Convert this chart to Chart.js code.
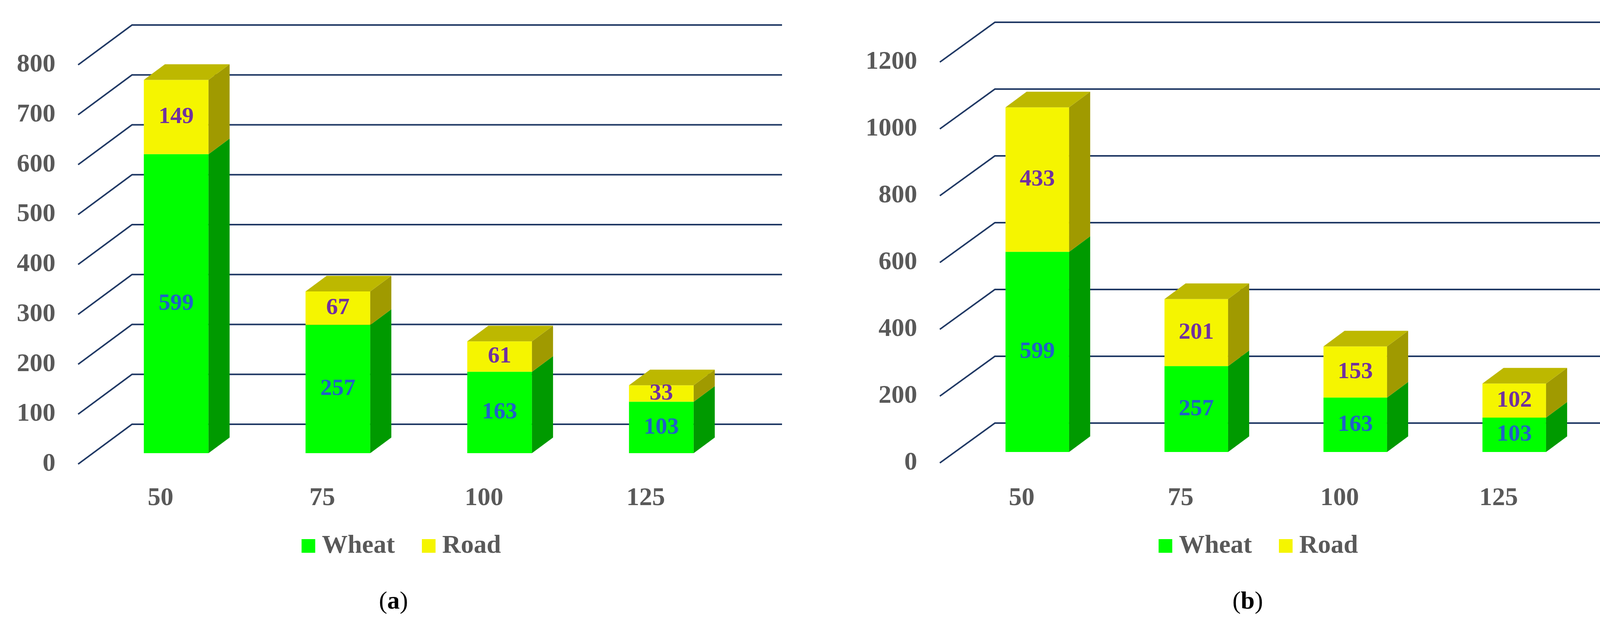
<!DOCTYPE html>
<html lang="en">
<head>
<meta charset="UTF-8">
<title>Wheat / Road</title>
<script src="https://cdn.jsdelivr.net/npm/chart.js"></script>
<style>
  body { margin:0; width:4221px; height:1605px; background:#fff; position:relative; overflow:hidden; }
  canvas { position:absolute; top:0; }
  .cap { position:absolute; top:1500px; font:64px "Liberation Serif", serif; color:#000; }
</style>
</head>
<body>
<canvas id="chartA" width="2110" height="1480" style="left:0"></canvas>
<canvas id="chartB" width="2110" height="1480" style="left:2111px"></canvas>
<div class="cap" style="left:970px">(<b>a</b>)</div>
<div class="cap" style="left:3155px">(<b>b</b>)</div>
<script>
const categories = ['50', '75', '100', '125'];
const wheatA = [599, 257, 163, 103];
const roadA = [149, 67, 61, 33];
const wheatB = [599, 257, 163, 103];
const roadB = [433, 201, 153, 102];
const ticksA = [0, 100, 200, 300, 400, 500, 600, 700, 800];
const ticksB = [0, 200, 400, 600, 800, 1000, 1200];

const DX = 54, DY = -40;          // depth of bar boxes
const labelFont = 'bold 60px "Liberation Serif", serif';
const axisFont = 'bold 66px "Liberation Serif", serif';

function make3d(cfg) {
  return {
    id: 'fake3d',
    beforeDatasetsDraw(chart) {
      const c = chart.ctx, y = chart.scales.y;
      c.save();
      c.strokeStyle = '#1f3864';
      c.lineWidth = 4;
      c.font = axisFont;
      c.fillStyle = '#595959';
      c.textAlign = 'right';
      c.textBaseline = 'middle';
      cfg.ticks.forEach(v => {
        const yp = y.getPixelForValue(v);
        c.beginPath();
        c.moveTo(cfg.frontX, yp + 28);
        c.lineTo(cfg.backX, yp - 74);
        c.lineTo(cfg.endX, yp - 74);
        c.stroke();
        c.fillText(String(v), cfg.labelX, yp + 28);
      });
      c.restore();
    },
    afterDatasetsDraw(chart) {
      const c = chart.ctx;
      const sides = ['#009a00', '#a09a00'];
      const tops = ['#00c800', '#bdb800'];
      const txt = ['#2060c8', '#7030a0'];
      chart.data.datasets.forEach((ds, di) => {
        chart.getDatasetMeta(di).data.forEach((bar, i) => {
          const w = bar.width, l = bar.x - w / 2, r = bar.x + w / 2;
          const top = bar.y, base = bar.base;
          c.fillStyle = sides[di];
          c.beginPath();
          c.moveTo(r, base); c.lineTo(r + DX, base + DY);
          c.lineTo(r + DX, top + DY); c.lineTo(r, top); c.closePath(); c.fill();
          if (di === chart.data.datasets.length - 1) {
            c.fillStyle = tops[di];
            c.beginPath();
            c.moveTo(l, top); c.lineTo(l + DX, top + DY);
            c.lineTo(r + DX, top + DY); c.lineTo(r, top); c.closePath(); c.fill();
          }
          c.font = labelFont;
          c.fillStyle = txt[di];
          c.textAlign = 'center';
          c.textBaseline = 'middle';
          c.fillText(String(ds.data[i]), bar.x, (top + base) / 2);
        });
      });
      // category labels
      const x = chart.scales.x;
      c.font = axisFont;
      c.fillStyle = '#595959';
      categories.forEach((t, i) => c.fillText(t, x.getPixelForValue(i) - 40, 1276));
      // legend
      const cx = (chart.chartArea.left + chart.chartArea.right) / 2 - 300;
      c.textAlign = 'left';
      [[cx, 'Wheat'], [cx + 308, 'Road']].forEach((it, k) => {
        c.fillStyle = chart.data.datasets[k].backgroundColor;
        c.fillRect(it[0], 1380, 35, 35);
        c.fillStyle = '#595959';
        c.fillText(it[1], it[0] + 52, 1398);
      });
    }
  };
}

function build(id, wheat, road, max, pad, cfg) {
  new Chart(document.getElementById(id), {
    type: 'bar',
    data: {
      labels: categories,
      datasets: [
        { label: 'Wheat', data: wheat, backgroundColor: '#00ff00' },
        { label: 'Road', data: road, backgroundColor: '#f5f500' }
      ]
    },
    options: {
      responsive: false,
      devicePixelRatio: 1,
      animation: false,
      layout: { padding: pad },
      barPercentage: 0.4,
      categoryPercentage: 1,
      plugins: { legend: { display: false }, tooltip: { enabled: false } },
      scales: {
        x: { stacked: true, display: false },
        y: { stacked: true, display: false, min: 0, max: max }
      }
    },
    plugins: [make3d(cfg)]
  });
}

build('chartA', wheatA, roadA, 800,
  { left: 244, right: 210, top: 138, bottom: 320 },
  { ticks: ticksA, frontX: 200, backX: 338, endX: 2002, labelX: 142 });
build('chartB', wheatB, roadB, 1200,
  { left: 341, right: 141, top: 131, bottom: 323 },
  { ticks: ticksB, frontX: 295, backX: 436, endX: 2074, labelX: 237 });
</script>
</body>
</html>
